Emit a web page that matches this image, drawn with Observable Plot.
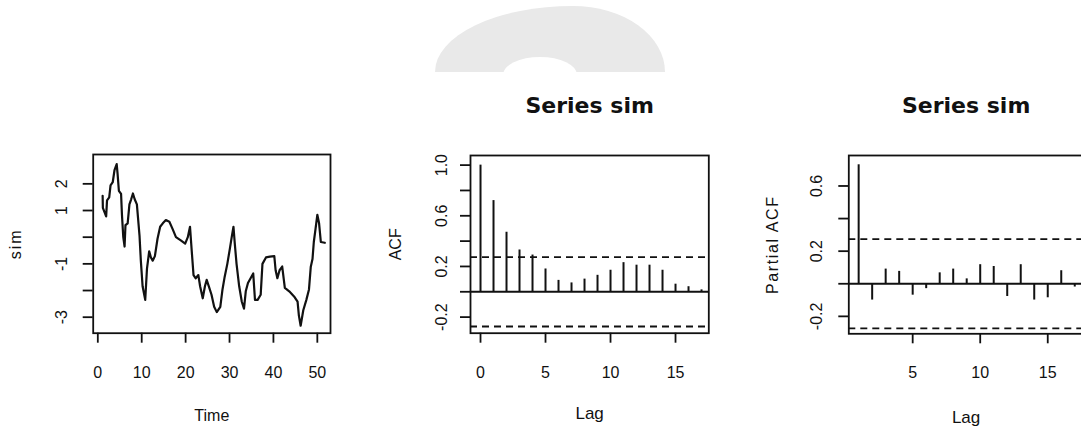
<!DOCTYPE html>
<html>
<head>
<meta charset="utf-8">
<script src="https://cdn.jsdelivr.net/npm/d3@7"></script>
<script src="https://cdn.jsdelivr.net/npm/@observablehq/plot@0.6"></script>
<style>
  html, body { margin: 0; padding: 0; background: #fff; }
  #wrap { position: relative; width: 1081px; height: 430px; overflow: hidden; background: #fff; }
  #wrap svg { position: absolute; top: 0; overflow: visible; }
  .dome { position: absolute; left: 435px; top: 6px; width: 230px; height: 66px; background: #e9e9e9;
          border-radius: 60% 40% 0 0 / 100% 100% 0 0; }
  .dome-hole { position: absolute; left: 503px; top: 57px; width: 74px; height: 18px; background: #fff;
          border-radius: 50% 50% 0 0 / 100% 100% 0 0; }
</style>
</head>
<body>
<div id="wrap"><div class="dome"></div><div class="dome-hole"></div></div>
<script>
const tsTime = [1.1,1.15,1.9,2.1,2.6,2.9,3.4,3.8,4.3,4.5,
  4.8,5.3,5.5,5.8,6.1,6.3,6.8,7.2,7.6,8.0,
  8.4,8.9,9.5,9.8,10.2,10.8,11.2,11.7,12.1,12.5,
  13.0,13.6,14.2,14.8,15.5,16.3,17.0,17.8,18.9,19.9,
  20.5,21.0,21.4,21.8,22.3,22.9,23.3,23.9,24.4,24.8,
  25.4,25.9,26.5,27.1,27.9,28.4,28.9,29.5,30.1,30.5,
  30.9,31.2,31.6,32.2,32.8,33.3,33.7,34.2,34.8,35.4,
  35.8,36.4,37.1,37.5,38.3,39.2,40.2,40.5,40.9,41.4,
  42.0,42.6,43.6,44.7,45.5,45.8,46.2,46.8,47.5,48.1,
  48.5,48.9,49.2,49.6,50.0,50.4,50.8,51.7];
const tsValue = [1.55,1.10,0.78,1.38,1.49,1.94,2.06,2.51,2.74,2.38,
  1.74,1.62,0.84,0.00,-0.35,0.45,0.52,1.23,1.42,1.64,
  1.42,1.23,0.06,-0.88,-1.84,-2.35,-1.18,-0.53,-0.76,-0.88,
  -0.71,-0.06,0.39,0.52,0.64,0.58,0.32,0.00,-0.12,-0.24,
  0.00,0.39,-0.53,-1.42,-1.54,-1.42,-1.84,-2.29,-1.84,-1.60,
  -1.90,-2.16,-2.61,-2.81,-2.61,-1.96,-1.48,-1.00,-0.41,0.00,
  0.39,-0.24,-1.00,-1.84,-2.42,-2.68,-2.03,-1.72,-1.54,-1.36,
  -2.35,-2.35,-2.16,-1.00,-0.76,-0.73,-0.71,-1.24,-1.54,-1.24,
  -1.10,-1.90,-2.03,-2.22,-2.42,-2.94,-3.32,-2.74,-2.35,-1.96,
  -1.12,-0.82,-0.18,0.32,0.84,0.52,-0.18,-0.21];
const tsXTicks = [0,10,20,30,40,50];
const tsYTicks = [-3,-2,-1,0,1,2];
const tsYLabels = [-3,-1,1,2];

// ---- ACF ----
const acfLag = [0,1,2,3,4,5,6,7,8,9,10,11,12,13,14,15,16,17];
const acfValue = [1.00,0.72,0.47,0.33,0.29,0.18,0.09,0.07,0.10,0.13,0.17,0.23,0.21,0.21,0.17,0.06,0.04,0.015];
const acfXTicks = [0,5,10,15];
const acfYTicks = [-0.2,0,0.2,0.4,0.6,0.8,1.0];
const acfYLabels = [-0.2,0.2,0.6,1.0];

// ---- PACF ----
const pacfLag = [1,2,3,4,5,6,7,8,9,10,11,12,13,14,15,16,17];
const pacfValue = [0.73,-0.10,0.09,0.076,-0.07,-0.03,0.067,0.09,0.03,0.117,0.106,-0.078,0.117,-0.10,-0.086,0.08,-0.02];
const pacfXTicks = [5,10,15];
const pacfYTicks = [-0.2,0,0.2,0.4,0.6];
const pacfYLabels = [-0.2,0.2,0.6];

const confLimit = 0.274;
const titleText = "Series sim";

const ink = "#111";
const baseStyle = {fontFamily: "'Liberation Sans', Arial, sans-serif", fontSize: "16px", background: "transparent", color: ink, overflow: "visible"};
const fmt1 = d => d.toFixed(1);
const txt = {fill: ink, textAnchor: "middle", lineAnchor: "middle"};

function axes(xTicks, yTicks, yLabels, yFmt, labelDx) {
  return [
    Plot.axisX({ticks: xTicks, tickSize: 10, tickPadding: 23.3, tickFormat: d => String(d), label: null, fontSize: 16, strokeWidth: 1.8}),
    Plot.axisY({ticks: yTicks, tickSize: 10, tickFormat: () => "", label: null, strokeWidth: 1.8}),
    Plot.text(yLabels, {y: d => d, text: yFmt, frameAnchor: "left", dx: labelDx, rotate: -90, fontSize: 16, ...txt}),
    Plot.frame({stroke: ink, strokeWidth: 1.8})
  ];
}

const tsData = tsTime.map((t, i) => ({t, v: tsValue[i]}));
const p1 = Plot.plot({
  width: 360, height: 430,
  marginLeft: 92.7, marginRight: 30, marginTop: 154, marginBottom: 97.3,
  x: {domain: [-1.05, 53.0]},
  y: {domain: [-3.6, 3.1]},
  style: baseStyle,
  marks: [
    Plot.line(tsData, {x: "t", y: "v", stroke: ink, strokeWidth: 2.2}),
    ...axes(tsXTicks, tsYTicks, tsYLabels, d => String(d), -31),
    Plot.text(["Time"], {frameAnchor: "bottom", dy: 82.3, fontSize: 16, ...txt}),
    Plot.text(["sim"], {frameAnchor: "left", dx: -77, rotate: -90, fontSize: 16, ...txt})
  ]
});
p1.style.left = "0px";

const acfData = acfLag.map((l, i) => ({lag: l, v: acfValue[i]}));
const p2 = Plot.plot({
  width: 360, height: 430,
  marginLeft: 110, marginRight: 11.7, marginTop: 155, marginBottom: 97.3,
  x: {domain: [-0.77, 17.56]},
  y: {domain: [-0.327, 1.076]},
  style: baseStyle,
  marks: [
    Plot.ruleY([0], {stroke: ink, strokeWidth: 2}),
    Plot.ruleY([confLimit, -confLimit], {stroke: ink, strokeWidth: 1.8, strokeDasharray: "7,5"}),
    Plot.ruleX(acfData, {x: "lag", y1: 0, y2: "v", stroke: ink, strokeWidth: 2}),
    ...axes(acfXTicks, acfYTicks, acfYLabels, fmt1, -28.3),
    Plot.text(["Lag"], {frameAnchor: "bottom", dy: 80.3, fontSize: 17, ...txt}),
    Plot.text(["ACF"], {frameAnchor: "left", dx: -74.3, rotate: -90, fontSize: 16, ...txt}),
    Plot.text([titleText], {frameAnchor: "top", dy: -50, fontSize: 22, fontWeight: "bold", fontFamily: "'DejaVu Sans', sans-serif", ...txt})
  ]
});
p2.style.left = "360px";

const pacfData = pacfLag.map((l, i) => ({lag: l, v: pacfValue[i]}));
const p3 = Plot.plot({
  width: 365, height: 430,
  marginLeft: 128.3, marginRight: 2.1, marginTop: 155, marginBottom: 96.7,
  x: {domain: [0.27, 17.64]},
  y: {domain: [-0.307, 0.787]},
  style: baseStyle,
  marks: [
    Plot.ruleY([0], {stroke: ink, strokeWidth: 2}),
    Plot.ruleY([confLimit, -confLimit], {stroke: ink, strokeWidth: 1.8, strokeDasharray: "7,5"}),
    Plot.ruleX(pacfData, {x: "lag", y1: 0, y2: "v", stroke: ink, strokeWidth: 2}),
    ...axes(pacfXTicks, pacfYTicks, pacfYLabels, fmt1, -32),
    Plot.text(["Lag"], {frameAnchor: "bottom", dy: 83.4, fontSize: 17, ...txt}),
    Plot.text(["Partial ACF"], {frameAnchor: "left", dx: -75.6, rotate: -90, fontSize: 16, ...txt}),
    Plot.text([titleText], {frameAnchor: "top", dy: -50, fontSize: 22, fontWeight: "bold", fontFamily: "'DejaVu Sans', sans-serif", ...txt})
  ]
});
p3.style.left = "720px";

// letter spacing to mimic the wide lettering of the original
d3.select(p3).selectAll("text").filter(function() { return this.textContent === "Partial ACF"; }).style("letter-spacing", "1.6px");
d3.select(p1).selectAll("text").filter(function() { return this.textContent === "sim"; }).style("letter-spacing", "2px");

const wrap = document.getElementById("wrap");
wrap.appendChild(p1);
wrap.appendChild(p2);
wrap.appendChild(p3);
</script>
</body>
</html>
